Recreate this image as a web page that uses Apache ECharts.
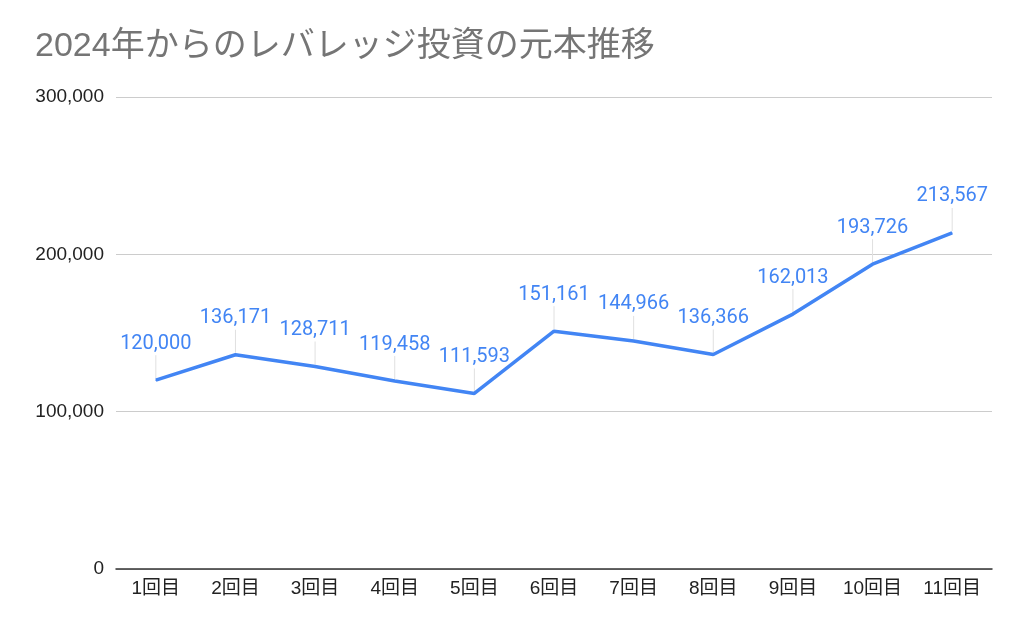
<!DOCTYPE html>
<html>
<head>
<meta charset="utf-8">
<script src="https://cdn.jsdelivr.net/npm/echarts@6/dist/echarts.min.js"></script>
<style>
html, body { margin: 0; padding: 0; background: #fff; }
#main { width: 1024px; height: 633px; }
</style>
</head>
<body>
<div id="main"></div>
<script>
var titleText = '2024年からのレバレッジ投資の元本推移';
var categories = ['1回目', '2回目', '3回目', '4回目', '5回目', '6回目', '7回目', '8回目', '9回目', '10回目', '11回目'];
var principal = [120000, 136171, 128711, 119458, 111593, 151161, 144966, 136366, 162013, 193726, 213567];
var yTicks = [0, 100000, 200000, 300000];

var chartDom = document.getElementById('main');
var myChart = echarts.init(chartDom);
var option;

option = {
    animation: false,
    title: {
        text: titleText,
        left: 30,
        top: 25,
        textStyle: {
            fontFamily: '"Liberation Sans", "Noto Sans CJK JP"',
            fontSize: 34,
            fontWeight: 'normal',
            color: '#757575'
        }
    },
    grid: {
        left: 116,
        right: 32,
        top: 97,
        bottom: 64
    },
    xAxis: {
        type: 'category',
        data: categories,
        boundaryGap: true,
        axisTick: { show: false },
        axisLine: { lineStyle: { color: '#333', width: 1.5 } },
        axisLabel: {
            color: '#222',
            fontSize: 19,
            margin: 10,
            fontFamily: '"Liberation Sans", "Noto Sans CJK JP"'
        }
    },
    yAxis: {
        type: 'value',
        min: yTicks[0],
        max: yTicks[yTicks.length - 1],
        interval: 100000,
        axisLine: { show: false },
        axisTick: { show: false },
        splitLine: { lineStyle: { color: '#cccccc', width: 1 } },
        axisLabel: {
            color: '#222',
            fontSize: 19,
            margin: 12,
            fontFamily: '"Liberation Sans"',
            formatter: function (v) { return v.toLocaleString('en-US'); }
        }
    },
    series: [{
        // 引き出し線
        type: 'custom',
        silent: true,
        z: 1,
        renderItem: function (params, api) {
            var p = api.coord([api.value(0), api.value(1)]);
            return {
                type: 'line',
                shape: { x1: p[0], y1: p[1] - 2, x2: p[0], y2: p[1] - 25 },
                style: { stroke: '#e0e0e0', lineWidth: 1 }
            };
        },
        data: principal.map(function (v, i) { return [i, v]; })
    }, {
        type: 'line',
        data: principal,
        z: 3,
        showSymbol: true,
        symbol: 'circle',
        symbolSize: 1,
        itemStyle: { color: '#4285f4' },
        lineStyle: { color: '#4285f4', width: 3.5 },
        label: {
            show: true,
            position: 'top',
            distance: 26,
            color: '#4285f4',
            fontSize: 20,
            fontFamily: 'Roboto',
            formatter: function (p) { return p.value.toLocaleString('en-US'); }
        }
    }]
};

option && myChart.setOption(option);
</script>
</body>
</html>
